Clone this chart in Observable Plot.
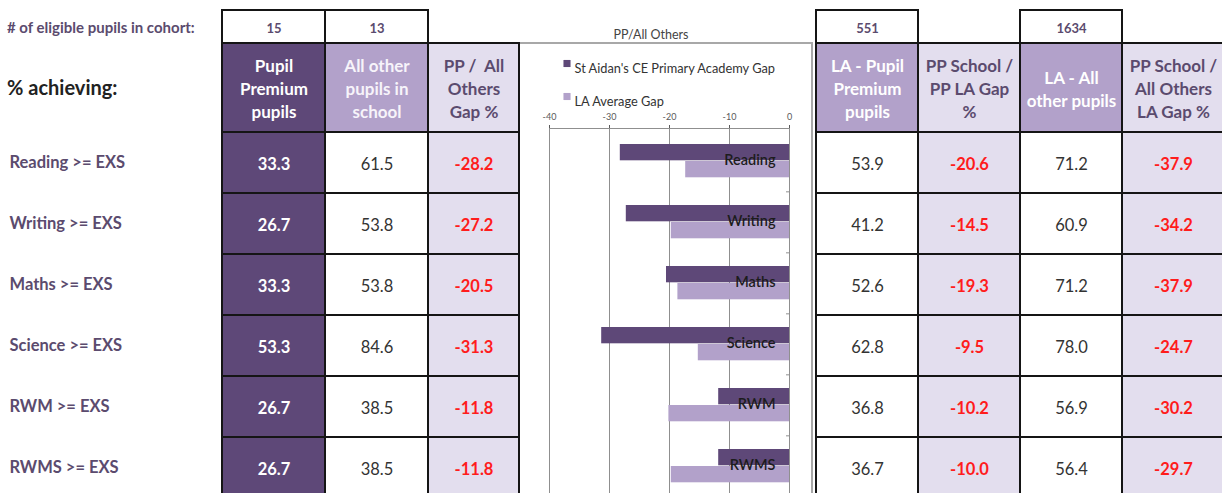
<!DOCTYPE html>
<html><head><meta charset="utf-8">
<script src="https://cdn.jsdelivr.net/npm/d3@7"></script>
<script src="https://cdn.jsdelivr.net/npm/@observablehq/plot@0.6"></script>
<style>
html,body{margin:0;padding:0;background:#fff;}
#root{position:relative;width:1222px;height:493px;overflow:hidden;font-family:Lato,sans-serif;background:#fff;}
#root svg{position:absolute;}
.lbl{position:absolute;white-space:nowrap;}
</style></head><body><div id="root"></div>
<script>
// ---- data ----
const categories = ["Reading", "Writing", "Maths", "Science", "RWM", "RWMS"];
const rowLabels = ["Reading >= EXS", "Writing >= EXS", "Maths >= EXS", "Science >= EXS", "RWM >= EXS", "RWMS >= EXS"];
const ppSchool = [33.3, 26.7, 33.3, 53.3, 26.7, 26.7];
const otherSchool = [61.5, 53.8, 53.8, 84.6, 38.5, 38.5];
const ppGap = [-28.2, -27.2, -20.5, -31.3, -11.8, -11.8];
const laPP = [53.9, 41.2, 52.6, 62.8, 36.8, 36.7];
const ppLaGap = [-20.6, -14.5, -19.3, -9.5, -10.2, -10.0];
const laOther = [71.2, 60.9, 71.2, 78.0, 56.9, 56.4];
const othersLaGap = [-37.9, -34.2, -37.9, -24.7, -30.2, -29.7];
const laAvgGap = [-17.3, -19.7, -18.6, -15.2, -20.1, -19.7];
const cohortLabel = "# of eligible pupils in cohort:";
const achievingLabel = "% achieving:";
const cohortCounts = [15, 13, 551, 1634];
const leftHeaders = ["Pupil\nPremium\npupils", "All other\npupils in\nschool"];
const gapHeader = "PP /  All\nOthers\nGap %";
const rightHeaders = ["LA - Pupil\nPremium\npupils", "PP School /\nPP LA Gap\n%", "LA - All\nother pupils", "PP School /\nAll Others\nLA Gap %"];
const chartTitle = "PP/All Others";
const seriesNames = ["St Aidan's CE Primary Academy Gap", "LA Average Gap"];
const xTicks = [-40, -30, -20, -10, 0];

// ---- styles ----
const DARK = "#5e4878", LIGHT = "#b2a1ca", PALE = "#e3deee", INK = "#5b4b6e", RED = "#ff1c1c", TXT = "#333333", GRID = "#8f8f8f";
const FONT = "Lato, sans-serif";
const fmt = d => d.toFixed(1);
const root = document.getElementById("root");

function place(el, left, top) { el.style.left = left + "px"; el.style.top = top + "px"; root.appendChild(el); }
function label(text, left, top, css) {
  const d = document.createElement("div"); d.className = "lbl"; d.textContent = text;
  Object.assign(d.style, css); place(d, left, top);
}

function block({left, top, width, height, cols, rows, cells, styles}) {
  const marks = [];
  for (const c of cols) {
    const d = cells.filter(e => e.col === c);
    if (!d.length) continue;
    const s = styles[c];
    marks.push(Plot.cell(d, {x: "col", y: "row", fill: s.fill, stroke: "#151515", strokeWidth: 2, inset: 0}));
    marks.push(Plot.text(d, {x: "col", y: "row", text: "text", fill: s.color, fontSize: s.size, fontWeight: s.weight, lineHeight: s.lh || 1.35}));
  }
  const svg = Plot.plot({
    width, height, margin: 0,
    x: {type: "band", domain: cols, padding: 0, axis: null},
    y: {type: "band", domain: rows, padding: 0, axis: null},
    style: {overflow: "visible", background: "none", fontFamily: FONT},
    marks
  });
  place(svg, left, top);
}

const leftCols = ["pp", "other"], gapCols = ["gap"], rightCols = ["laPP", "ppLaGap", "laOther", "othersLaGap"];
const countStyle = {fill: "#fff", color: INK, size: 13, weight: "bold"};
const headStyles = {
  pp: {fill: DARK, color: "#fff", size: 17, weight: "bold"},
  other: {fill: LIGHT, color: "#f7f4fa", size: 17, weight: "bold"},
  gap: {fill: PALE, color: INK, size: 17, weight: "bold"},
  laPP: {fill: LIGHT, color: "#fff", size: 17, weight: "bold"},
  ppLaGap: {fill: PALE, color: INK, size: 17, weight: "bold"},
  laOther: {fill: LIGHT, color: "#fff", size: 17, weight: "bold"},
  othersLaGap: {fill: PALE, color: INK, size: 17, weight: "bold"}
};
const dataStyles = {
  pp: {fill: DARK, color: "#fff", size: 16.5, weight: "bold"},
  other: {fill: "#fff", color: TXT, size: 16.5, weight: "normal"},
  gap: {fill: PALE, color: RED, size: 16.5, weight: "bold"},
  laPP: {fill: "#fff", color: TXT, size: 16.5, weight: "normal"},
  ppLaGap: {fill: PALE, color: RED, size: 16.5, weight: "bold"},
  laOther: {fill: "#fff", color: TXT, size: 16.5, weight: "normal"},
  othersLaGap: {fill: PALE, color: RED, size: 16.5, weight: "bold"}
};

// ---- chart frame + chart ----
const frame = document.createElement("div");
Object.assign(frame.style, {position: "absolute", width: "293px", height: "470px", borderTop: "2px solid #a8a8a8", borderRight: "2px solid #a8a8a8", boxSizing: "border-box"});
place(frame, 520, 42);
label(chartTitle, 551, 27, {width: "200px", textAlign: "center", fontSize: "12.5px", color: "#444"});

const chartData = categories.flatMap((c, i) => [
  {cat: c, series: seriesNames[0], value: ppGap[i]},
  {cat: c, series: seriesNames[1], value: laAvgGap[i]}
]);
const chart = Plot.plot({
  width: 294, height: 455, marginTop: 85, marginLeft: 30, marginRight: 24, marginBottom: 0,
  style: {overflow: "visible", background: "none", fontFamily: FONT},
  x: {domain: [-40, 0], axis: null, label: null},
  y: {domain: categories, axis: null, padding: 0},
  color: {domain: seriesNames, range: [DARK, LIGHT]},
  marks: [
    Plot.gridX(xTicks, {stroke: GRID, strokeOpacity: 1}),
    Plot.barX(chartData.filter(d => d.series === seriesNames[0]), {x: "value", y: "cat", fill: "series", insetTop: 14, insetBottom: 30.7}),
    Plot.barX(chartData.filter(d => d.series === seriesNames[1]), {x: "value", y: "cat", fill: "series", insetTop: 31, insetBottom: 13.7}),
    Plot.ruleY(categories.slice(0, -1), {y: d => d, x1: () => -0.5, x2: () => 0, dy: 30.83, stroke: GRID}),
    Plot.axisX(xTicks, {anchor: "top", label: null, tickSize: 4, tickPadding: 5, fontSize: 9, color: "#5a5a5a", tickFormat: d => String(d)}),
    Plot.frame({anchor: "top", stroke: GRID}),
    Plot.text(categories, {x: () => 0, y: d => d, text: d => d, textAnchor: "end", dx: -14, dy: -1, fontSize: 14.5, fontWeight: 600, fill: "#1c1c1c"}),
    Plot.dot([seriesNames[0]], {frameAnchor: "top-left", dx: 17.5, dy: -65, symbol: "square", r: 4, fill: d => d}),
    Plot.text([seriesNames[0]], {frameAnchor: "top-left", dx: 25, dy: -65, text: d => d, textAnchor: "start", fontSize: 12.8, fill: "#333"}),
    Plot.dot([seriesNames[1]], {frameAnchor: "top-left", dx: 17.5, dy: -32, symbol: "square", r: 4, fill: d => d}),
    Plot.text([seriesNames[1]], {frameAnchor: "top-left", dx: 25, dy: -32, text: d => d, textAnchor: "start", fontSize: 12.8, fill: "#333"})
  ]
});
place(chart, 519, 43);

// ---- left labels ----
label(cohortLabel, 7, 18, {fontSize: "15px", fontWeight: "bold", color: INK});
label(achievingLabel, 7, 75, {fontSize: "20px", fontWeight: "bold", color: "#222"});
const rowLabelPlot = Plot.plot({
  width: 222, height: 366, margin: 0,
  x: {axis: null}, y: {type: "band", domain: categories, padding: 0, axis: null},
  style: {overflow: "visible", background: "none", fontFamily: FONT},
  marks: [Plot.text(categories.map((c, i) => ({cat: c, text: rowLabels[i]})), {y: "cat", text: "text", frameAnchor: "left", dx: 9, textAnchor: "start", fontSize: 16.5, fontWeight: "bold", fill: INK})]
});
place(rowLabelPlot, 0, 132);

// ---- table blocks ----
block({left: 222, top: 10, width: 206, height: 33, cols: leftCols, rows: ["n"],
  cells: leftCols.map((c, i) => ({col: c, row: "n", text: String(cohortCounts[i])})),
  styles: {pp: countStyle, other: countStyle}});
block({left: 816, top: 10, width: 408, height: 33, cols: rightCols, rows: ["n"],
  cells: [{col: "laPP", row: "n", text: String(cohortCounts[2])}, {col: "laOther", row: "n", text: String(cohortCounts[3])}],
  styles: {laPP: countStyle, laOther: countStyle}});

block({left: 222, top: 43, width: 206, height: 89, cols: leftCols, rows: ["h"],
  cells: leftCols.map((c, i) => ({col: c, row: "h", text: leftHeaders[i]})), styles: headStyles});
block({left: 428, top: 43, width: 91, height: 89, cols: gapCols, rows: ["h"],
  cells: [{col: "gap", row: "h", text: gapHeader}], styles: headStyles});
block({left: 816, top: 43, width: 408, height: 89, cols: rightCols, rows: ["h"],
  cells: rightCols.map((c, i) => ({col: c, row: "h", text: rightHeaders[i]})), styles: headStyles});

block({left: 222, top: 132, width: 206, height: 366, cols: leftCols, rows: categories,
  cells: categories.flatMap((r, i) => [{col: "pp", row: r, text: fmt(ppSchool[i])}, {col: "other", row: r, text: fmt(otherSchool[i])}]),
  styles: dataStyles});
block({left: 428, top: 132, width: 91, height: 366, cols: gapCols, rows: categories,
  cells: categories.map((r, i) => ({col: "gap", row: r, text: fmt(ppGap[i])})), styles: dataStyles});
block({left: 816, top: 132, width: 408, height: 366, cols: rightCols, rows: categories,
  cells: categories.flatMap((r, i) => [
    {col: "laPP", row: r, text: fmt(laPP[i])}, {col: "ppLaGap", row: r, text: fmt(ppLaGap[i])},
    {col: "laOther", row: r, text: fmt(laOther[i])}, {col: "othersLaGap", row: r, text: fmt(othersLaGap[i])}]),
  styles: dataStyles});
</script></body></html>
